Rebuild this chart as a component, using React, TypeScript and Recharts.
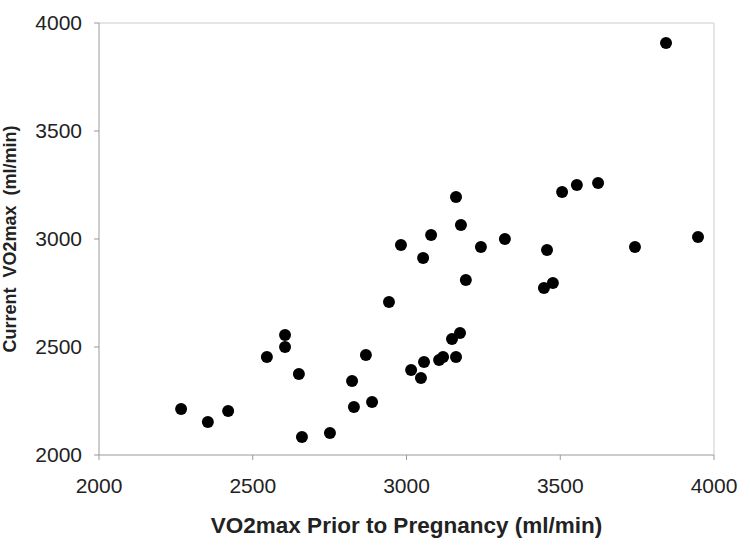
import React from 'react';
import {
  ScatterChart,
  Scatter,
  XAxis,
  YAxis,
  ReferenceLine,
  Label,
} from 'recharts';

// VO2max before pregnancy (x) vs current VO2max (y), ml/min
const priorVo2 = [
  2267, 2354, 2420, 2546, 2605, 2605, 2650, 2660, 2751, 2823,
  2829, 2888, 2868, 2943, 2982, 3015, 3047, 3057, 3054, 3080,
  3106, 3119, 3148, 3161, 3174, 3161, 3177, 3193, 3242, 3320,
  3457, 3447, 3476, 3506, 3554, 3623, 3743, 3844, 3948,
];
const currentVo2 = [
  2213, 2153, 2204, 2454, 2556, 2500, 2375, 2083, 2102, 2343,
  2222, 2245, 2463, 2708, 2972, 2394, 2356, 2431, 2912, 3019,
  2440, 2454, 2537, 2454, 2565, 3194, 3065, 2810, 2963, 3000,
  2949, 2773, 2796, 3218, 3250, 3259, 2963, 3907, 3009,
];
const axisTicks = [2000, 2500, 3000, 3500, 4000];

const points = priorVo2.map((x, i) => ({ x, y: currentVo2[i] }));

const axisColor = '#9a9a9a';
const tickStyle = { fill: '#222', fontSize: 21, fontFamily: 'Liberation Sans, Arial, sans-serif' };

const Dot = (p: any) => <circle cx={p.cx} cy={p.cy} r={6} fill="#000" />;

export default function App() {
  return (
    <div style={{ position: 'absolute', left: 0, top: 0, background: '#fff' }}>
      <ScatterChart
        width={750}
        height={556}
        margin={{ top: 23, right: 36, bottom: 0, left: 0 }}
      >
        <XAxis
          type="number"
          dataKey="x"
          domain={[2000, 4000]}
          ticks={axisTicks}
          allowDataOverflow
          height={101}
          stroke={axisColor}
          tickSize={5}
          tickMargin={18}
          tick={tickStyle}
        >
          <Label
            content={(props: any) => {
              const vb = props.viewBox;
              return (
                <text
                  x={vb.x + vb.width / 2}
                  y={533}
                  textAnchor="middle"
                  fontSize={22.5}
                  fontWeight="bold"
                  fill="#222"
                  fontFamily="Liberation Sans, Arial, sans-serif"
                >
                  VO2max Prior to Pregnancy (ml/min)
                </text>
              );
            }}
          />
        </XAxis>
        <YAxis
          type="number"
          dataKey="y"
          domain={[2000, 4000]}
          ticks={axisTicks}
          allowDataOverflow
          width={99}
          stroke={axisColor}
          tickSize={5}
          tickMargin={12}
          tick={tickStyle}
        >
          <Label
            content={(props: any) => {
              const vb = props.viewBox;
              const cy = vb.y + vb.height / 2;
              return (
                <text
                  x={15.5}
                  y={cy}
                  transform={`rotate(-90, 15.5, ${cy})`}
                  textAnchor="middle"
                  fontSize={18}
                  fontWeight="bold"
                  fill="#222"
                  fontFamily="Liberation Sans, Arial, sans-serif"
                  style={{ whiteSpace: 'pre' }}
                >
                  {'Current  VO2max  (ml/min)'}
                </text>
              );
            }}
          />
        </YAxis>
        <ReferenceLine y={4000} stroke="#dcdcdc" strokeWidth={1.5} />
        <ReferenceLine x={4000} stroke="#dcdcdc" strokeWidth={1.5} />
        <Scatter data={points} shape={Dot} isAnimationActive={false} />
      </ScatterChart>
    </div>
  );
}
